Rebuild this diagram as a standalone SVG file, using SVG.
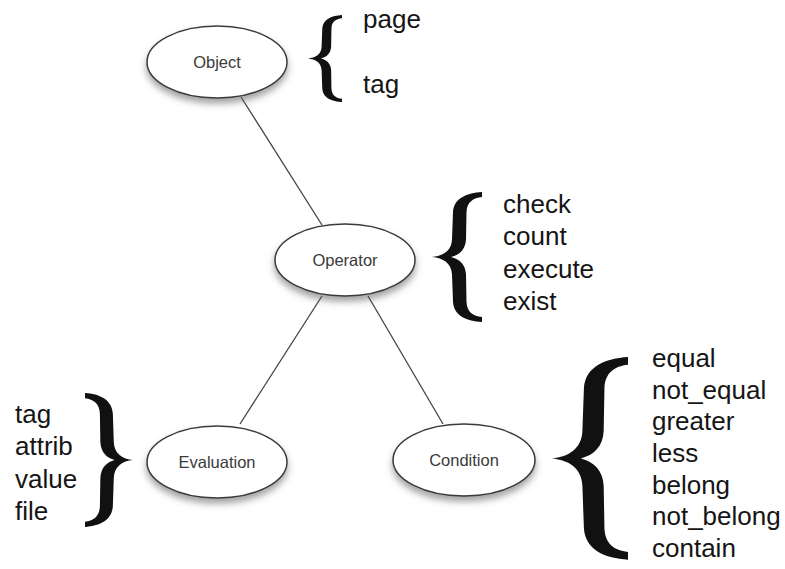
<svg xmlns="http://www.w3.org/2000/svg" xmlns:xlink="http://www.w3.org/1999/xlink" width="785" height="569" viewBox="0 0 785 569">
<defs>
<filter id="shadow" x="-20%" y="-20%" width="140%" height="160%">
<feDropShadow dx="0" dy="5" stdDeviation="3.5" flood-color="#555" flood-opacity="0.55"/>
</filter>
<path id="brace" d="M100,0 C70,2 44,12 42,40 L40,95 C39,118 22,128 0,130 C22,132 39,142 40,165 L42,220 C44,248 70,258 100,260 L100,250 C82,248 70,240 69,220 L68,165 C67,145 55,134 38,130 C55,126 67,115 68,95 L69,40 C70,20 82,12 100,10 Z"/>
<style>
.node ellipse{fill:#fff;stroke:#3a3a3a;stroke-width:1.5;filter:url(#shadow)}
.node text{font-family:"Liberation Sans",Arial,sans-serif;font-size:16.5px;fill:#3a3a3a;text-anchor:middle}
.edges line{stroke:#444;stroke-width:1.3}
.list{font-family:"Liberation Sans",Arial,sans-serif;font-size:26px;fill:#151515}
.br{fill:#111}
</style>
</defs>
<rect width="785" height="569" fill="#fff"/>
<g id="connectors" class="edges">
<line x1="241" y1="97" x2="322" y2="225"/>
<line x1="322" y1="296" x2="240" y2="424"/>
<line x1="368" y1="296" x2="443" y2="424"/>
</g>
<g id="object" class="node">
<ellipse cx="217" cy="62" rx="70" ry="36"/>
<text x="217" y="68">Object</text>
</g>
<g id="operator" class="node">
<ellipse cx="345" cy="260" rx="70" ry="36"/>
<text x="345" y="266">Operator</text>
</g>
<g id="evaluation" class="node">
<ellipse cx="217" cy="462" rx="70" ry="36"/>
<text x="217" y="468">Evaluation</text>
</g>
<g id="condition" class="node">
<ellipse cx="464" cy="460" rx="71" ry="36"/>
<text x="464" y="466">Condition</text>
</g>
<g id="object-values">
<use xlink:href="#brace" class="br" transform="translate(308,15) scale(0.34,0.335)"/>
<text class="list" x="363" y="28">page</text>
<text class="list" x="363" y="93">tag</text>
</g>
<g id="operator-values">
<use xlink:href="#brace" class="br" transform="translate(432,192) scale(0.5,0.5)"/>
<text class="list" x="503" y="213">check</text>
<text class="list" x="503" y="245">count</text>
<text class="list" x="503" y="278">execute</text>
<text class="list" x="503" y="310">exist</text>
</g>
<g id="evaluation-values">
<use xlink:href="#brace" class="br" transform="translate(133,393) scale(-0.48,0.515)"/>
<text class="list" x="15" y="423">tag</text>
<text class="list" x="15" y="455">attrib</text>
<text class="list" x="15" y="488">value</text>
<text class="list" x="15" y="520">file</text>
</g>
<g id="condition-values">
<use xlink:href="#brace" class="br" transform="translate(552,357) scale(0.76,0.78)"/>
<text class="list" x="652" y="367">equal</text>
<text class="list" x="652" y="399">not_equal</text>
<text class="list" x="652" y="430">greater</text>
<text class="list" x="652" y="462">less</text>
<text class="list" x="652" y="494">belong</text>
<text class="list" x="652" y="525">not_belong</text>
<text class="list" x="652" y="557">contain</text>
</g>
</svg>
